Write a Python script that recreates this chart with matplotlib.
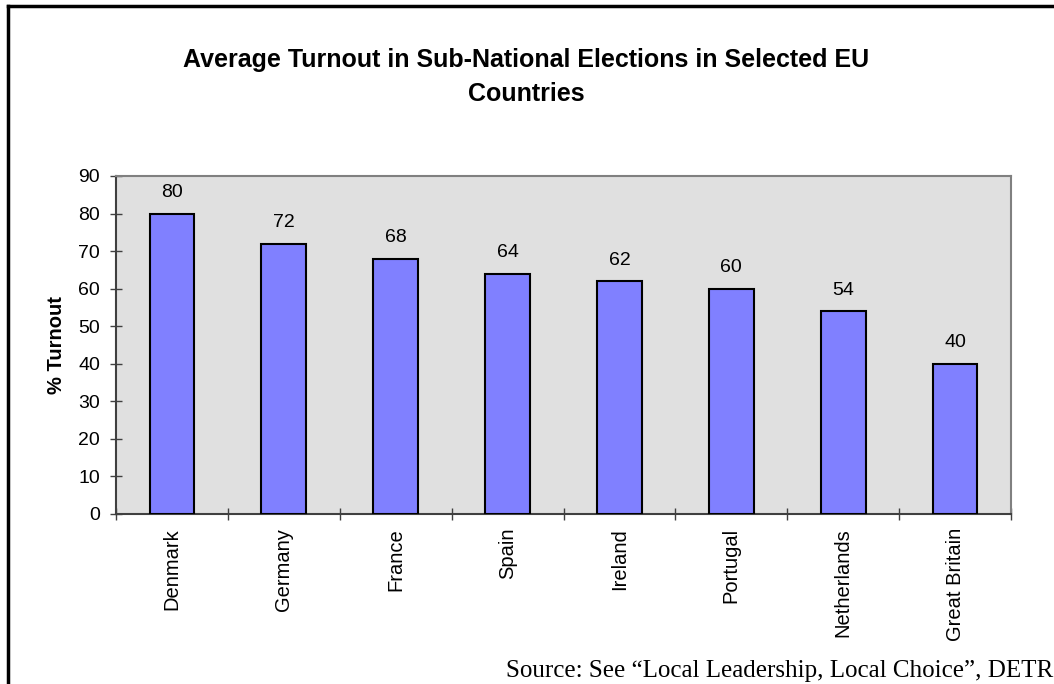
import numpy as np
import matplotlib.pyplot as plt
from matplotlib.lines import Line2D

countries = ['Denmark', 'Germany', 'France', 'Spain', 'Ireland',
             'Portugal', 'Netherlands', 'Great Britain']
turnout = [80, 72, 68, 64, 62, 60, 54, 40]

plt.rcParams['font.family'] = ['Liberation Sans', 'DejaVu Sans']

fig = plt.figure(figsize=(10.54, 6.84), dpi=100)
ax = fig.add_axes([116/1054, 1-514/684, (1011-116)/1054, (514-176)/684])

x = np.arange(len(countries))
ax.bar(x, turnout, width=0.4, color='#8080ff', edgecolor='black', linewidth=1.5, zorder=3)
for xi, v in zip(x, turnout):
    ax.text(xi, v + 5.6, str(v), ha='center', va='center', fontsize=14)

ax.set_facecolor('#e0e0e0')
ax.set_xlim(-0.5, len(countries) - 0.5)
ax.set_ylim(0, 90)
ax.set_yticks(range(0, 91, 10))
ax.tick_params(axis='y', labelsize=14, length=9, width=1, color='#404040', direction='inout', pad=7)

ax.set_xticks(x)
ax.set_xticklabels(countries, rotation=90, fontsize=14.5)
ax.tick_params(axis='x', length=0, pad=10)
ax.set_xticks(np.arange(-0.5, len(countries), 1), minor=True)
ax.tick_params(axis='x', which='minor', length=9, width=1, color='#404040', direction='inout')

for side in ['top', 'right']:
    ax.spines[side].set_color('#808080')
    ax.spines[side].set_linewidth(1.5)
for side in ['left', 'bottom']:
    ax.spines[side].set_color('#404040')
    ax.spines[side].set_linewidth(1.5)

ax.set_ylabel('% Turnout', fontsize=14.5, fontweight='bold')
ax.yaxis.set_label_coords(-0.056, 0.5)

fig.text(526/1054, 1-60/684, 'Average Turnout in Sub-National Elections in Selected EU',
         ha='center', va='center', fontsize=18, fontweight='bold')
fig.text(526/1054, 1-94/684, 'Countries', ha='center', va='center', fontsize=18, fontweight='bold')

fig.text(1053/1054, 1-677/684, 'Source: See \u201cLocal Leadership, Local Choice\u201d, DETR',
         ha='right', va='baseline', fontsize=18, family='Liberation Serif')

# outer frame (left and top edges)
fig.add_artist(Line2D([8/1054, 8/1054], [0, 1-6/684], color='black', linewidth=2.5))
fig.add_artist(Line2D([8/1054, 1], [1-6/684, 1-6/684], color='black', linewidth=2.5))

fig.savefig('out.png', dpi=100)
